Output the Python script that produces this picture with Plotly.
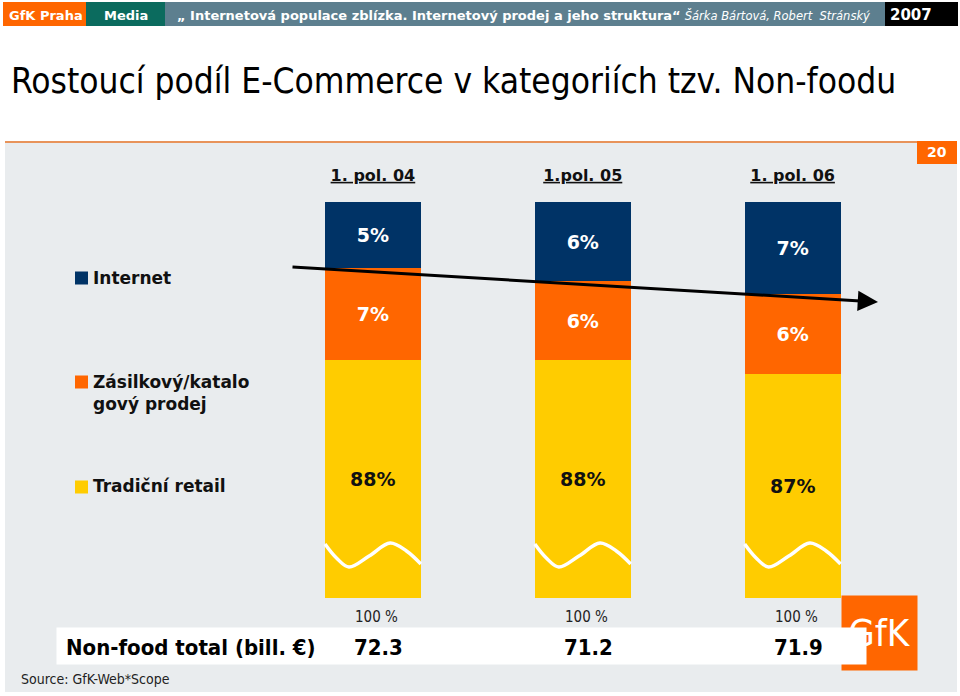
import plotly.graph_objects as go

# ---------------- data ----------------
periods = ["1. pol. 04", "1.pol. 05", "1. pol. 06"]
internet = [5, 6, 7]
zasilkovy = [7, 6, 6]
tradicni = [88, 88, 87]
totals = ["72.3", "71.2", "71.9"]
total_base = ["100 %", "100 %", "100 %"]
series_labels = ["Internet", "Zásilkový/katalo<br>gový prodej", "Tradiční retail"]

NAVY = "#003366"
ORANGE = "#FF6600"
YELLOW = "#FFCC00"
GREY_BG = "#E9ECEE"

W, H = 960, 696
BOLD = "DejaVu Sans"
NARROW = "Liberation Sans Narrow, DejaVu Sans Condensed, sans-serif"


def px(x):
    return x / W


def py(y):
    return 1 - y / H


def note(text, x, y, xref="paper", yref="paper", **kw):
    d = dict(text=text, x=x, y=y, xref=xref, yref=yref, showarrow=False,
             xanchor="center", yanchor="middle")
    d.update(kw)
    return d


Y_MIN, Y_MAX = 70, 100          # broken axis: Tradiční retail is cut
PLOT_TOP, PLOT_BOT = 202, 598
PX_PER_UNIT = (PLOT_BOT - PLOT_TOP) / (Y_MAX - Y_MIN)
BAR_W = 0.457
xs = list(range(len(periods)))

fig = go.Figure()
fig.add_bar(x=xs, y=tradicni, marker=dict(color=YELLOW, line=dict(width=0)),
            width=BAR_W, name="Tradiční retail", hoverinfo="skip")
fig.add_bar(x=xs, y=zasilkovy, marker=dict(color=ORANGE, line=dict(width=0)),
            width=BAR_W, name="Zásilkový/katalogový prodej",
            text=[f"<b>{v}%</b>" for v in zasilkovy], textposition="inside",
            insidetextanchor="middle", textangle=0,
            textfont=dict(family=BOLD, size=19, color="white"), hoverinfo="skip")
fig.add_bar(x=xs, y=internet, marker=dict(color=NAVY, line=dict(width=0)),
            width=BAR_W, name="Internet",
            text=[f"<b>{v}%</b>" for v in internet], textposition="inside",
            insidetextanchor="middle", textangle=0,
            textfont=dict(family=BOLD, size=19, color="white"), hoverinfo="skip")

# axis-break wave on each yellow bar (decoration)
WAVE_F = [0.0, 0.12, 0.25, 0.46, 0.68, 0.85, 1.0]
WAVE_PX = [54, 40, 31, 42, 55, 47, 34]   # pixels above bar bottom
for i in xs:
    fig.add_scatter(
        x=[i - BAR_W / 2 + f * BAR_W for f in WAVE_F],
        y=[Y_MIN + p / PX_PER_UNIT for p in WAVE_PX],
        mode="lines", line=dict(color="white", width=3.5, shape="spline", smoothing=1.0),
        hoverinfo="skip", showlegend=False)

shapes = []
ann = []

# header bar
header_boxes = [(3, 86, ORANGE), (86, 165, "#0B6B5E"), (165, 885, "#5D7F8F"), (885, 958, "#000000")]
for x0, x1, c in header_boxes:
    shapes.append(dict(type="rect", xref="paper", yref="paper", x0=px(x0), x1=px(x1),
                       y0=py(26), y1=py(2), fillcolor=c, line=dict(width=0), layer="below"))
ann.append(note("<b>GfK Praha</b>", px(46), py(15), font=dict(family=BOLD, size=13, color="white")))
ann.append(note("<b>Media</b>", px(126), py(15), font=dict(family=BOLD, size=13, color="white")))
ann.append(note("<b>„ Internetová populace zblízka. Internetový prodej a jeho struktura“</b> "
                '<span style="font-size:11.5px"><i>Šárka Bártová, Robert  Stránský</i></span>',
                px(175), py(15), xanchor="left", font=dict(family=BOLD, size=13, color="white")))
ann.append(note("<b>2007</b>", px(911), py(15), font=dict(family=BOLD, size=15, color="white")))

# title
ann.append(note("Rostoucí podíl E-Commerce v kategoriích tzv. Non-foodu",
                px(9), py(81), xanchor="left",
                font=dict(family=NARROW, size=35, color="#000000")))

# grey panel + orange rule + page number
shapes.append(dict(type="rect", xref="paper", yref="paper", x0=px(5), x1=px(957),
                   y0=py(692), y1=py(143), fillcolor=GREY_BG, line=dict(width=0), layer="below"))
shapes.append(dict(type="line", xref="paper", yref="paper", x0=px(5), x1=px(957),
                   y0=py(142), y1=py(142), line=dict(color="#E8935A", width=2), layer="below"))
shapes.append(dict(type="rect", xref="paper", yref="paper", x0=px(917), x1=px(957),
                   y0=py(164), y1=py(141), fillcolor=ORANGE, line=dict(width=0), layer="below"))
ann.append(note("<b>20</b>", px(937), py(152), font=dict(family=BOLD, size=14, color="white")))

# legend
legend_items = [(series_labels[0], NAVY, 278), (series_labels[1], ORANGE, 393), (series_labels[2], YELLOW, 486)]
sq_y = [278, 382, 487]
for (lab, col, yc), sy in zip(legend_items, sq_y):
    shapes.append(dict(type="rect", xref="paper", yref="paper", x0=px(75), x1=px(88),
                       y0=py(sy + 6.5), y1=py(sy - 6.5), fillcolor=col, line=dict(width=0)))
    ann.append(note(f"<b>{lab}</b>", px(91), py(yc), xanchor="left", align="left",
                    font=dict(family=BOLD, size=17, color="#111111")))

# labels on the cut yellow segment
for i, v in zip(xs, tradicni):
    ann.append(note(f"<b>{v}%</b>", i, (Y_MIN + v) / 2, xref="x", yref="y",
                    font=dict(family=BOLD, size=19, color="#111111")))

# trend arrow
ann.append(dict(text="", x=px(878), y=py(302), xref="paper", yref="paper",
                ax=291 - 878, ay=267 - 302, showarrow=True, arrowhead=2, arrowsize=1.35,
                arrowwidth=3, arrowcolor="#000000", standoff=0))

# bottom: 100 % labels
for i, t in zip(xs, total_base):
    ann.append(note(t, i, py(617), xref="x", xshift=4,
                    font=dict(family=NARROW, size=15, color="#222222")))

# GfK logo
ann.append(note("GfK", px(879.5), py(633), width=75, height=74, bgcolor=ORANGE, borderpad=0,
                font=dict(family=NARROW, size=38, color="white")))
# white band for totals (drawn above logo)
ann.append(note(" ", px((57 + 866) / 2), py(646), width=809, height=36, bgcolor="white",
                borderpad=0))
ann.append(note("<b>Non-food total (bill. €)</b>", px(64), py(647), xanchor="left",
                font=dict(family=NARROW, size=22, color="#000000")))
for i, t in zip(xs, totals):
    ann.append(note(f"<b>{t}</b>", i, py(647), xref="x", xshift=6,
                    font=dict(family=NARROW, size=22, color="#000000")))

ann.append(note("Source: GfK-Web*Scope", px(19), py(679), xanchor="left",
                font=dict(family=NARROW, size=14, color="#222222")))

fig.update_layout(
    width=W, height=H, margin=dict(l=0, r=0, t=0, b=0),
    paper_bgcolor="white", plot_bgcolor="rgba(0,0,0,0)",
    barmode="stack", showlegend=False,
    shapes=shapes, annotations=ann,
    xaxis=dict(domain=[px(268), px(897.5)], range=[-0.5, 2.5], side="top",
               tickvals=xs,
               ticktext=[f'<b><span style="text-decoration:underline">{p}</span></b>' for p in periods],
               tickfont=dict(family=BOLD, size=16, color="#111111"),
               showgrid=False, zeroline=False, showline=False, ticks="",
               ticklabelstandoff=17, fixedrange=True),
    yaxis=dict(domain=[py(PLOT_BOT), py(PLOT_TOP)], range=[Y_MIN, Y_MAX], visible=False,
               fixedrange=True),
)

fig.write_html("out.html", config={"displayModeBar": False},
               post_script="document.body.style.margin='0';")
